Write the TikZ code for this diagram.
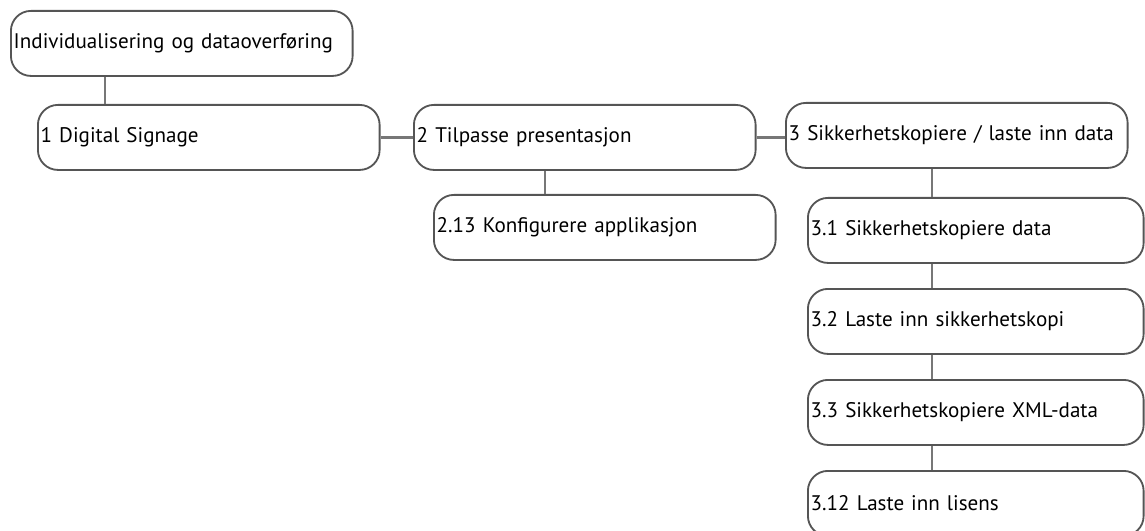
\documentclass[tikz,border=0pt]{standalone}
\usepackage{fontspec}
\setmainfont{PT Sans}
\usetikzlibrary{positioning, calc}
\definecolor{boxgray}{HTML}{555555}
\definecolor{linkgray}{HTML}{777777}

\begin{document}
\begin{tikzpicture}[x=0.025cm, y=-0.025cm,
    item/.style={draw=boxgray, line width=1.3pt, rounded corners=0.5cm, anchor=north west,
      minimum height=1.625cm, text width=8.4cm, inner xsep=2pt, align=left, font=\fontsize{15}{18}\selectfont},
    subitem/.style={item, text width=8.25cm},
    link/.style={draw=linkgray, line width=2pt}]
        \useasboundingbox (0,0) rectangle (1145,531);
        \node[item] (ind) at (10,10) {Individualisering og dataoverføring};
        \node[item] (sig) at (37,104) {1 Digital Signage};
        \node[item] (pres) at (413,104) {2 Tilpasse presentasjon};
        \node[item] (konf) at (433,194) {2.13 Konfigurere applikasjon};
        \node[item] (sik) at (785,102) {3 Sikkerhetskopiere / laste inn data};
        \node[subitem] (sik1) at (807,197) {3.1 Sikkerhetskopiere data};
        \node[subitem] (sik2) at (807,288) {3.2 Laste inn sikkerhetskopi};
        \node[subitem] (sik3) at (807,379) {3.3 Sikkerhetskopiere XML-data};
        \node[subitem] (sik12) at (807,470) {3.12 Laste inn lisens};
        % links
        \coordinate (c1) at (105,0);
        \coordinate (c2) at (545,0);
        \coordinate (c3) at (932,0);
        \draw[link] (ind.south -| c1) -- (sig.north -| c1);
        \draw[link] (sig.east) -- (pres.west);
        \draw[link] (pres.east) -- (pres.east -| sik.west);
        \draw[link] (pres.south -| c2) -- (konf.north -| c2);
        \draw[link] (sik.south -| c3) -- (sik1.north -| c3);
        \foreach \a/\b in {sik1/sik2, sik2/sik3, sik3/sik12}
          \draw[link] (\a.south -| c3) -- (\b.north -| c3);
\end{tikzpicture}
\end{document}
